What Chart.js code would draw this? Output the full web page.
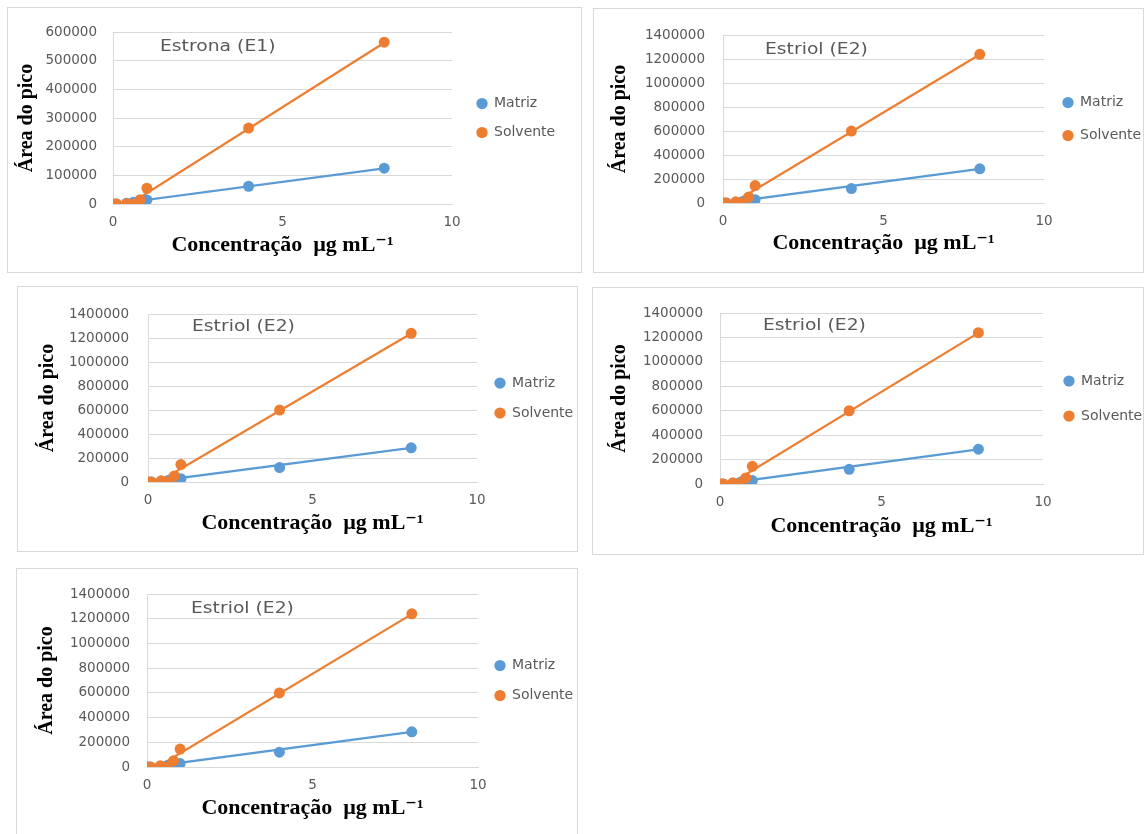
<!DOCTYPE html>
<html lang="pt">
<head>
<meta charset="utf-8">
<title>Curvas analíticas – Matriz × Solvente</title>
<script src="https://cdn.jsdelivr.net/npm/chart.js@4.4.1/dist/chart.umd.min.js"></script>
<style>
  html, body { margin: 0; padding: 0; background: #ffffff; }
  body { position: relative; width: 1144px; height: 834px; overflow: hidden; }
  .painel { position: absolute; border: 1px solid #d9d9d9; background: #ffffff; }
  .painel canvas { display: block; }
</style>
</head>
<body>
<div class="painel" id="p1"><canvas></canvas></div>
<div class="painel" id="p2"><canvas></canvas></div>
<div class="painel" id="p3"><canvas></canvas></div>
<div class="painel" id="p4"><canvas></canvas></div>
<div class="painel" id="p5"><canvas></canvas></div>
<script>
// Concentrações dos padrões (µg mL-1)
const concentracao = [0, 0.1, 0.4, 0.6, 0.8, 1, 4, 8];

// Área do pico – Estrona (E1)
const matrizE1   = [0, 0, 3000, 6000, 10000, 14000, 62000, 125000];
const solventeE1 = [0, 0, 1000, 0, 15000, 55000, 265000, 565000];

// Área do pico – Estriol (E2)
const matrizE2   = [0, 0, 5000, 10000, 20000, 28000, 120000, 285000];
const solventeE2 = [0, 0, 10000, 0, 50000, 145000, 600000, 1240000];

// Linhas de tendência lineares: valores nas extremidades x = 0 e x = 8
const ajusteX          = [0, 8];
const ajusteMatrizE1   = [-1000, 124000];
const ajusteSolventeE1 = [-37000, 563000];
const ajusteMatrizE2   = [-2000, 284000];
const ajusteSolventeE2 = [-50000, 1238000];

// Marcas dos eixos
const xTicks   = [0, 5, 10];
const yTicksE1 = [0, 100000, 200000, 300000, 400000, 500000, 600000];
const yTicksE2 = [0, 200000, 400000, 600000, 800000, 1000000, 1200000, 1400000];

// Textos
const nomesSeries  = ['Matriz', 'Solvente'];
const tituloEixoY  = 'Área do pico';
const tituloEixoX  = 'Concentração  µg mL⁻¹';
const tituloE1     = 'Estrona (E1)';
const tituloE2     = 'Estriol (E2)';

const AZUL = '#5B9BD5';
const LARANJA = '#ED7D31';
const CINZA_TEXTO = '#595959';
const CINZA_GRADE = '#d9d9d9';

Chart.defaults.font.family = '"DejaVu Sans", sans-serif';
Chart.defaults.color = CINZA_TEXTO;
Chart.defaults.animation = false;

const E1 = { titulo: tituloE1, matriz: matrizE1, solvente: solventeE1,
             ajMatriz: ajusteMatrizE1, ajSolvente: ajusteSolventeE1, yTicks: yTicksE1 };
const E2 = { titulo: tituloE2, matriz: matrizE2, solvente: solventeE2,
             ajMatriz: ajusteMatrizE2, ajSolvente: ajusteSolventeE2, yTicks: yTicksE2 };

// Disposição de cada quadro na página (caixa externa e área de plotagem)
const paineis = [
  { el: 'p1', dados: E1, caixa: [7, 7, 575, 266],   area: [113, 25, 452, 204], nome: [47, 15],
    leg: { pad: 15, folga: 10 }, yTituloX: 27,  xTituloY: 245, tickPad: 16 },
  { el: 'p2', dados: E2, caixa: [593, 8, 551, 265], area: [723, 28, 1044, 203], nome: [42, 15],
    leg: { pad: 19, folga: 0 },  yTituloX: 620, xTituloY: 243, tickPad: 18 },
  { el: 'p3', dados: E2, caixa: [17, 286, 561, 266], area: [148, 305, 477, 482], nome: [44, 13],
    leg: { pad: 16, folga: 2 },  yTituloX: 48,  xTituloY: 523, tickPad: 19 },
  { el: 'p4', dados: E2, caixa: [592, 287, 552, 268], area: [720, 306, 1043, 484], nome: [43, 13],
    leg: { pad: 21, folga: 0 },  yTituloX: 620, xTituloY: 526, tickPad: 17 },
  { el: 'p5', dados: E2, caixa: [16, 568, 562, 270], area: [147, 587, 478, 767], nome: [44, 15],
    leg: { pad: 16, folga: 1 },  yTituloX: 47,  xTituloY: 808, tickPad: 17 }
];

const FONTE_LEGENDA = 14;
const medidor = document.createElement('canvas').getContext('2d');
medidor.font = FONTE_LEGENDA + 'px "DejaVu Sans", sans-serif';
const larguraTextoLegenda = Math.max(...nomesSeries.map(t => medidor.measureText(t).width));

const pares = (xs, ys) => xs.map((x, i) => ({ x: x, y: ys[i] }));

// Nome do composto escrito dentro da área de plotagem
const rotuloInterno = {
  id: 'rotuloInterno',
  beforeDatasetsDraw(chart, args, opts) {
    const { ctx, chartArea } = chart;
    ctx.save();
    ctx.font = '15px "DejaVu Sans", sans-serif';
    ctx.fillStyle = CINZA_TEXTO;
    ctx.textBaseline = 'middle';
    ctx.textAlign = 'left';
    ctx.translate(chartArea.left + opts.dx, chartArea.top + opts.dy);
    ctx.scale(1.25, 1);
    ctx.fillText(opts.texto, 0, 0);
    ctx.restore();
  }
};

function montar(p) {
  const d = p.dados;
  const div = document.getElementById(p.el);
  const cv = div.querySelector('canvas');
  const [bx, by, bw, bh] = p.caixa;
  const cw = bw - 2, ch = bh - 2;
  div.style.left = bx + 'px';
  div.style.top = by + 'px';
  div.style.width = cw + 'px';
  div.style.height = ch + 'px';
  cv.width = cw;
  cv.height = ch;
  cv.style.width = cw + 'px';
  cv.style.height = ch + 'px';

  const c0x = bx + 1, c0y = by + 1;
  const [aL, aT, aR, aB] = p.area;
  const larguraY = aL - c0x;
  const alturaX = c0y + ch - aB;
  const padTopo = aT - c0y;

  const naturalLeg = p.leg.pad + 10 + FONTE_LEGENDA / 2 + larguraTextoLegenda + 10;
  const dispLeg = (c0x + cw) - aR - p.leg.folga;
  const padDir = Math.max(0, dispLeg - naturalLeg);

  const TAM_Y = 20, TAM_X = 22;
  const yTitPadTop = p.yTituloX - c0x - TAM_Y * 1.2 / 2;
  const xTitPadBottom = (c0y + ch) - p.xTituloY - TAM_X * 1.2 / 2;

  const yMin = d.yTicks[0];
  const yMax = d.yTicks[d.yTicks.length - 1];

  return new Chart(cv, {
    type: 'scatter',
    data: {
      datasets: [
        { label: nomesSeries[0], data: pares(concentracao, d.matriz),
          backgroundColor: AZUL, borderColor: AZUL, pointStyle: 'circle',
          pointRadius: 5.5, pointHoverRadius: 5.5, pointBorderWidth: 0, showLine: false, order: 1 },
        { label: nomesSeries[1], data: pares(concentracao, d.solvente),
          backgroundColor: LARANJA, borderColor: LARANJA, pointStyle: 'circle',
          pointRadius: 5.5, pointHoverRadius: 5.5, pointBorderWidth: 0, showLine: false, order: 0 },
        { label: nomesSeries[0] + ' (tendência)', ehAjuste: true, data: pares(ajusteX, d.ajMatriz),
          borderColor: AZUL, backgroundColor: AZUL, borderWidth: 2.25, pointRadius: 0,
          pointHoverRadius: 0, showLine: true, order: 3 },
        { label: nomesSeries[1] + ' (tendência)', ehAjuste: true, data: pares(ajusteX, d.ajSolvente),
          borderColor: LARANJA, backgroundColor: LARANJA, borderWidth: 2.25, pointRadius: 0,
          pointHoverRadius: 0, showLine: true, order: 2 }
      ]
    },
    options: {
      responsive: false,
      devicePixelRatio: 1,
      animation: false,
      events: [],
      layout: { padding: { top: padTopo, left: 0, right: padDir, bottom: 0 } },
      scales: {
        x: {
          type: 'linear', position: 'bottom',
          min: xTicks[0], max: xTicks[xTicks.length - 1],
          afterBuildTicks: s => { s.ticks = xTicks.map(v => ({ value: v })); },
          afterFit: s => { s.height = alturaX; },
          grid: { display: false, drawTicks: false },
          border: { display: true, color: CINZA_GRADE, width: 1 },
          ticks: { padding: 10, maxRotation: 0, autoSkip: false, color: CINZA_TEXTO,
                   font: { size: 13.5 }, callback: v => String(v) },
          title: { display: true, text: tituloEixoX, color: '#000000',
                   font: { family: '"Liberation Serif", "DejaVu Serif", serif', size: TAM_X, weight: 'bold' },
                   padding: { top: 0, bottom: xTitPadBottom } }
        },
        y: {
          type: 'linear', position: 'left',
          min: yMin, max: yMax,
          afterBuildTicks: s => { s.ticks = d.yTicks.map(v => ({ value: v })); },
          afterFit: s => { s.width = larguraY; },
          grid: { color: CINZA_GRADE, lineWidth: 1, drawTicks: false },
          border: { display: true, color: CINZA_GRADE, width: 1 },
          ticks: { padding: p.tickPad, color: CINZA_TEXTO, font: { size: 13.5 },
                   callback: v => String(v) },
          title: { display: true, text: tituloEixoY, color: '#000000',
                   font: { family: '"Liberation Serif", "DejaVu Serif", serif', size: TAM_Y, weight: 'bold' },
                   padding: { top: yTitPadTop, bottom: 0 } }
        },
        folga: {
          type: 'linear', position: 'right', display: true,
          afterFit: s => { s.width = p.leg.folga; },
          grid: { display: false, drawTicks: false },
          border: { display: false },
          ticks: { display: false }
        }
      },
      plugins: {
        legend: {
          display: true, position: 'right', fullSize: false, align: 'center',
          maxWidth: dispLeg - padDir,
          labels: {
            usePointStyle: true, pointStyle: 'circle',
            boxWidth: 10, boxHeight: 8,
            padding: p.leg.pad,
            color: CINZA_TEXTO,
            font: { size: FONTE_LEGENDA },
            filter: (item, data) => !data.datasets[item.datasetIndex].ehAjuste,
            sort: (a, b) => a.datasetIndex - b.datasetIndex
          }
        },
        tooltip: { enabled: false },
        title: { display: false },
        rotuloInterno: { texto: d.titulo, dx: p.nome[0], dy: p.nome[1] }
      }
    },
    plugins: [rotuloInterno]
  });
}

paineis.forEach(montar);
</script>
</body>
</html>
